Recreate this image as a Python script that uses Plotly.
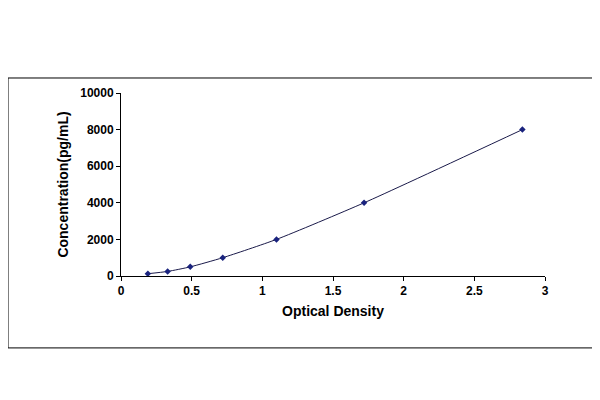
import plotly.graph_objects as go

# standard curve points
od = [0.19, 0.33, 0.49, 0.72, 1.10, 1.72, 2.84]
conc = [125, 250, 500, 1000, 2000, 4000, 8000]

x_ticks = [0, 0.5, 1, 1.5, 2, 2.5, 3]
y_ticks = [0, 2000, 4000, 6000, 8000, 10000]

fig = go.Figure()
fig.add_trace(go.Scatter(
    x=od, y=conc, mode="lines+markers",
    line=dict(color="#1a1a4a", width=1, shape="spline", smoothing=0.6),
    marker=dict(symbol="diamond", size=5, color="#1a237e"),
))

tick_font = dict(family="Liberation Sans, Arial", size=12, weight="bold", color="black")
fig.update_layout(
    width=600, height=400,
    margin=dict(l=113, r=63, t=85, b=132, autoexpand=False),
    paper_bgcolor="white", plot_bgcolor="white",
    showlegend=False,
    font=dict(family="Liberation Sans, Arial", size=12, color="black"),
    xaxis=dict(range=[0, 3], tickvals=x_ticks, ticktext=[f"{v:g}" for v in x_ticks],
               showgrid=False, zeroline=False, showline=True, linecolor="black",
               ticks="outside", ticklen=4, tickcolor="black", automargin=False,
               tickfont=tick_font,
               title=dict(text="<b>Optical Density</b>", standoff=8)),
    yaxis=dict(range=[0, 10000], tickvals=y_ticks, ticktext=[str(v) for v in y_ticks],
               showgrid=False, zeroline=False, showline=True, linecolor="black",
               ticks="outside", ticklen=4, tickcolor="black", automargin=False,
               tickfont=tick_font,
               title=dict(text="<b>Concentration(pg/mL)</b>", standoff=8)),
)
fig.add_shape(type="rect", xref="paper", yref="paper",
              x0=-0.2665, x1=1.144, y0=-0.393, y1=1.082,
              line=dict(color="black", width=1))
fig.write_html("out.html")
